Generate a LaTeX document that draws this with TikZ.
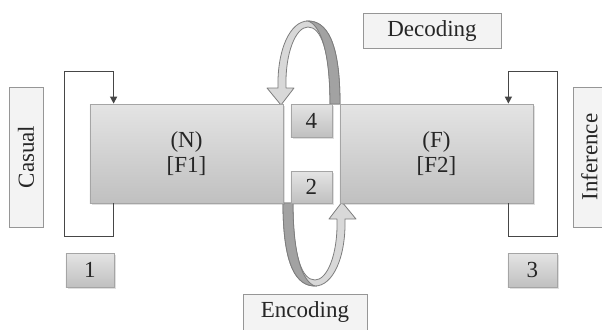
\documentclass[tikz,border=0pt]{standalone}
\usepackage{fontspec}
\setmainfont{Liberation Serif}
\usetikzlibrary{arrows.meta,shadows,calc}
\definecolor{BoxTop}{RGB}{228,228,228}
\definecolor{BoxBottom}{RGB}{192,192,192}
\definecolor{BoxLine}{RGB}{165,165,165}
\definecolor{TagFill}{RGB}{243,243,243}
\definecolor{TagLine}{RGB}{150,150,150}
\definecolor{LoopGray}{RGB}{70,70,70}
\definecolor{RibbonLight}{RGB}{216,216,216}
\definecolor{RibbonDark}{RGB}{162,162,162}
\definecolor{RibbonLine}{RGB}{125,125,125}
\definecolor{TextGray}{RGB}{38,38,38}

\begin{document}
\begin{tikzpicture}[x=0.5pt,y=-0.5pt,
  block/.style={draw=BoxLine,top color=BoxTop,bottom color=BoxBottom,
    drop shadow={shadow xshift=0.8pt,shadow yshift=-0.8pt,opacity=.25},
    text=TextGray,align=center,inner sep=0pt,
    font=\fontsize{11.5}{12.5}\selectfont},
  tag/.style={draw=TagLine,fill=TagFill,text=TextGray,inner sep=0pt,
    font=\fontsize{11.5}{13}\selectfont},
  loopline/.style={LoopGray,line width=0.7pt,
    -{Triangle[length=3.5pt,width=3.5pt]}}]

\clip (0,0) rectangle (602,329);

% ribbon arrows, the lower one is the upper one turned round
\foreach \r in {0,180}{
\begin{scope}[rotate around={\r:(311.5,153.5)}]
\fill[RibbonLight,draw=RibbonLine,line width=0.4pt,line join=round]
  (340,104) .. controls (340,40) and (326,21) .. (308,21)
  .. controls (290,21) and (277,50) .. (278,88)
  -- (267,88) -- (281,105) -- (294,88) -- (286,88)
  .. controls (285,52) and (296,27) .. (308,27)
  .. controls (321,27) and (330,50) .. (330,104) -- cycle;
\fill[RibbonDark,draw=RibbonLine,line width=0.4pt]
  (340,104) .. controls (340,40) and (326,21) .. (308,21)
  .. controls (320,25) and (330,50) .. (330,104) -- cycle;
\end{scope}
}

\node[block,minimum width=96.5pt,minimum height=49.5pt] (N) at (186.5,153.5) {(N)\\{}[F1]};
\node[block,minimum width=96.5pt,minimum height=49.5pt] (F) at (436.5,153.5) {(F)\\{}[F2]};

\node[block,minimum width=20.5pt,minimum height=16.5pt] (s4) at (311.5,120.5) {4};
\node[block,minimum width=20.5pt,minimum height=16pt] (s2) at (311.5,187) {2};
\node[block,minimum width=24pt,minimum height=17pt] (s1) at (90,270) {1};
\node[block,minimum width=24.5pt,minimum height=17pt] (s3) at (532.5,270) {3};

\node[tag,rotate=90,minimum width=70pt,minimum height=17pt] (casual) at (26,157) {Casual};
\node[tag,rotate=90,minimum width=70pt,minimum height=16.5pt] (inference) at (589.5,157) {Inference};
\node[tag,minimum width=69pt,minimum height=17.5pt] (decoding) at (432,30.5) {Decoding};
\node[tag,minimum width=62pt,minimum height=18pt] (encoding) at (305,312) {Encoding};

\coordinate (Nout) at ($(N.south west)+(24,0)$);
\coordinate (Nin) at ($(N.north west)+(24,0)$);
\coordinate (Fout) at ($(F.south east)+(-25,0)$);
\coordinate (Fin) at ($(F.north east)+(-25,0)$);

\draw[loopline] (Nout) -- ++(0,33) -- ++(-49,0) -- ++(0,-165) -- ++(49,0) -- (Nin);
\draw[loopline] (Fout) -- ++(0,33) -- ++(49,0) -- ++(0,-165) -- ++(-49,0) -- (Fin);

\end{tikzpicture}
\end{document}
